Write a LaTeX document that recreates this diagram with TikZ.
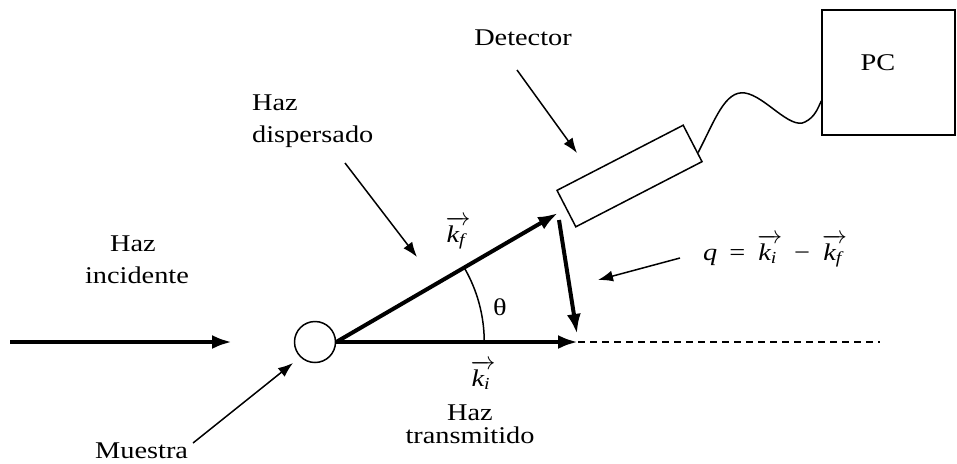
\documentclass[tikz,border=0pt]{standalone}
\usepackage{amsmath}
\usepackage{fontspec}
\setmainfont{Liberation Serif}[FakeStretch=1.18]
\usetikzlibrary{arrows.meta,calc}
\tikzset{
  lbl/.style={font=\fontsize{24}{29}\selectfont, inner sep=0pt},
  beam/.style={line width=4pt, -{Latex[length=20pt,width=14pt]}},
  pointer/.style={line width=1.5pt, -{Latex[length=15pt,width=11pt]}},
  thinline/.style={line width=1.5pt},
}
\newcommand{\vk}[1]{\ensuremath{\overrightarrow{\textit{k}_{\textit{#1}}\,}}}
\begin{document}
\begin{tikzpicture}[x=1pt,y=-1pt]
\useasboundingbox (0,0) rectangle (957,463);
% boxes
\node[draw, thinline, circle, minimum size=41pt, inner sep=0pt] (sample) at (315,342) {};
\node[draw, thinline, rectangle, minimum width=142pt, minimum height=41pt, rotate=27.3] (det) at (629.5,176) {};
\node[draw, thinline, rectangle, minimum width=133pt, minimum height=125pt] (pc) at (888.5,72.5) {};
% coordinates
\coordinate (incstart) at (10,342);
\coordinate (incend) at (232,342);
\coordinate (kiend) at (578,342);
\coordinate (dashend) at (880,342);
\coordinate (kfend) at (558,213);
\coordinate (qstart) at (559,220);
\coordinate (qend) at (577,334);
\coordinate (arcstart) at ($(sample.east)+(148,0)$);
% beams
\draw[beam] (incstart) -- (incend);
\draw[beam] (sample.east) -- (kiend);
\draw[thinline, dashed, dash pattern=on 7pt off 5pt] (kiend) -- (dashend);
\draw[beam] (sample.east) -- (kfend);
\draw[beam] (qstart) -- (qend);
\draw[thinline] (arcstart) arc[start angle=0, end angle=-30.2, radius=148];
% cable
\coordinate (cab1) at ($(det.east)!0.5!(det.south east)$);
\coordinate (cab2) at ($(pc.west)!0.45!(pc.south west)$);
\draw[thinline] (cab1) .. controls (715,120) and (725,90) .. (745,93)
  .. controls (765,96) and (790,130) .. (805,122)
  .. controls (815,117) and (818,108) .. (cab2);
% labels
\node[lbl, anchor=base] (hazinc1) at (133,251) {Haz};
\node[lbl, anchor=base] (hazinc2) at (137,283) {incidente};
\node[lbl, anchor=base west] (hazdis1) at (252,110) {Haz};
\node[lbl, anchor=base west] (hazdis2) at (252,142) {dispersado};
\node[lbl, anchor=base] (detlbl) at (523,45) {Detector};
\node[lbl, anchor=base] (pclbl) at (878,70) {PC};
\node[lbl, anchor=base] (hazt1) at (470,420) {Haz};
\node[lbl, anchor=base] (hazt2) at (470,443) {transmitido};
\node[lbl, anchor=base west] (muestra) at (95,458) {Muestra};
\node[lbl] (theta) at (500,307) {θ};
\node[lbl, anchor=base] (kflbl) at (458,242) {\vk{f}};
\node[lbl, anchor=base] (kilbl) at (483,386) {\vk{i}};
\node[lbl, anchor=base west] (qlbl) at (703,260) {\textit{q}\enspace=\enspace\vk{i}\enspace−\enspace\vk{f}};
% pointers
\coordinate (p1s) at (345,163); \coordinate (p1e) at (417,257);
\coordinate (p2s) at (517,70);  \coordinate (p2e) at (577,153);
\coordinate (p3s) at (680,258); \coordinate (p3e) at (598,280);
\coordinate (p4s) at (193,443); \coordinate (p4e) at (293,363);
\draw[pointer] (p1s) -- (p1e);
\draw[pointer] (p2s) -- (p2e);
\draw[pointer] (p3s) -- (p3e);
\draw[pointer] (p4s) -- (p4e);
\end{tikzpicture}
\end{document}
